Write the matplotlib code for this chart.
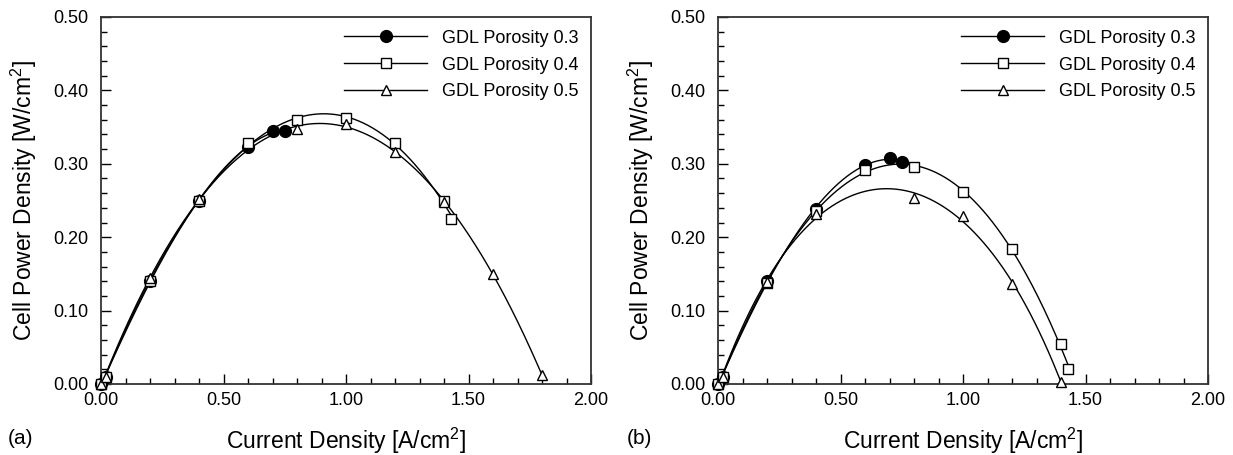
import numpy as np
import matplotlib
matplotlib.use("Agg")
import matplotlib.pyplot as plt
from matplotlib.ticker import MultipleLocator, FormatStrFormatter

plt.rcParams['font.family'] = ['Liberation Sans', 'DejaVu Sans']
plt.rcParams['mathtext.fontset'] = 'custom'
plt.rcParams['mathtext.rm'] = 'Liberation Sans'

labels = ["GDL Porosity 0.3", "GDL Porosity 0.4", "GDL Porosity 0.5"]

# Panel (a)
a_x03 = [0.0, 0.02, 0.2, 0.4, 0.6, 0.7, 0.75]
a_y03 = [0.0, 0.010, 0.140, 0.250, 0.323, 0.345, 0.345]
a_x04 = [0.0, 0.02, 0.2, 0.4, 0.6, 0.8, 1.0, 1.2, 1.4, 1.43]
a_y04 = [0.0, 0.010, 0.141, 0.249, 0.329, 0.360, 0.362, 0.328, 0.250, 0.225]
a_x05 = [0.0, 0.02, 0.2, 0.4, 0.8, 1.0, 1.2, 1.4, 1.6, 1.8]
a_y05 = [0.0, 0.010, 0.145, 0.252, 0.348, 0.354, 0.316, 0.248, 0.150, 0.012]

# Panel (b)
b_x03 = [0.0, 0.02, 0.2, 0.4, 0.6, 0.7, 0.75]
b_y03 = [0.0, 0.010, 0.140, 0.238, 0.299, 0.308, 0.303]
b_x04 = [0.0, 0.02, 0.2, 0.4, 0.6, 0.8, 1.0, 1.2, 1.4, 1.43]
b_y04 = [0.0, 0.010, 0.138, 0.236, 0.292, 0.296, 0.261, 0.184, 0.055, 0.020]
b_x05 = [0.0, 0.02, 0.2, 0.4, 0.8, 1.0, 1.2, 1.4]
b_y05 = [0.0, 0.010, 0.139, 0.231, 0.253, 0.229, 0.136, 0.003]

panels = [
    ("(a)", [(a_x03, a_y03), (a_x04, a_y04), (a_x05, a_y05)]),
    ("(b)", [(b_x03, b_y03), (b_x04, b_y04), (b_x05, b_y05)]),
]

markers = [dict(marker='o', mfc='black', mec='black', ms=8.5),
           dict(marker='s', mfc='white', mec='black', ms=7, mew=1.0),
           dict(marker='^', mfc='white', mec='black', ms=7.5, mew=1.0)]
degrees = [3, 4, 4]

W, H = 1233, 455
fig = plt.figure(figsize=(W / 100, H / 100), dpi=100)
lefts_px = [101, 718]
tags_px = [8, 627]
width_px = 490
top_px, bottom_px = 17, 384

for (tag, series), lpx, tpx in zip(panels, lefts_px, tags_px):
    ax = fig.add_axes([lpx / W, 1 - bottom_px / H, width_px / W,
                       (bottom_px - top_px) / H])
    for (x, y), mk, deg, lab in zip(series, markers, degrees, labels):
        x = np.asarray(x); y = np.asarray(y)
        coef = np.polyfit(x, y, deg)
        xs = np.linspace(x.min(), x.max(), 300)
        ax.plot(xs, np.polyval(coef, xs), color='black', lw=1.0, zorder=2)
        ax.plot(x, y, ls='none', zorder=3, clip_on=False, **mk)
        ax.plot([], [], color='black', lw=1.0, label=lab, **mk)
    ax.set_xlim(0, 2.0)
    ax.set_ylim(0, 0.5)
    ax.xaxis.set_major_locator(MultipleLocator(0.5))
    ax.xaxis.set_minor_locator(MultipleLocator(0.1))
    ax.yaxis.set_major_locator(MultipleLocator(0.1))
    ax.yaxis.set_minor_locator(MultipleLocator(0.02))
    ax.xaxis.set_major_formatter(FormatStrFormatter('%.2f'))
    ax.yaxis.set_major_formatter(FormatStrFormatter('%.2f'))
    ax.tick_params(which='both', direction='in', top=False, right=False,
                   labelsize=13, colors='black')
    ax.tick_params(which='major', length=7, width=1.0)
    ax.tick_params(which='minor', length=4, width=1.0)
    ax.tick_params(axis='y', which='major', pad=9)
    ax.tick_params(axis='x', which='major', pad=6)
    for s in ax.spines.values():
        s.set_color('#333333')
        s.set_linewidth(1.3)
    ax.set_xlabel(r'Current Density [A/cm$^2$]', fontsize=16.5, labelpad=12)
    ax.set_ylabel(r'Cell Power Density [W/cm$^2$]', fontsize=16.5, labelpad=10)
    ax.legend(loc='upper right', frameon=False, fontsize=13,
              handlelength=4.6, handletextpad=0.8, labelspacing=0.55,
              borderaxespad=0.3, numpoints=1)
    fig.text(tpx / W, 1 - 438 / H, tag, fontsize=15, ha='left', va='center')

fig.savefig("out.png", dpi=100)
